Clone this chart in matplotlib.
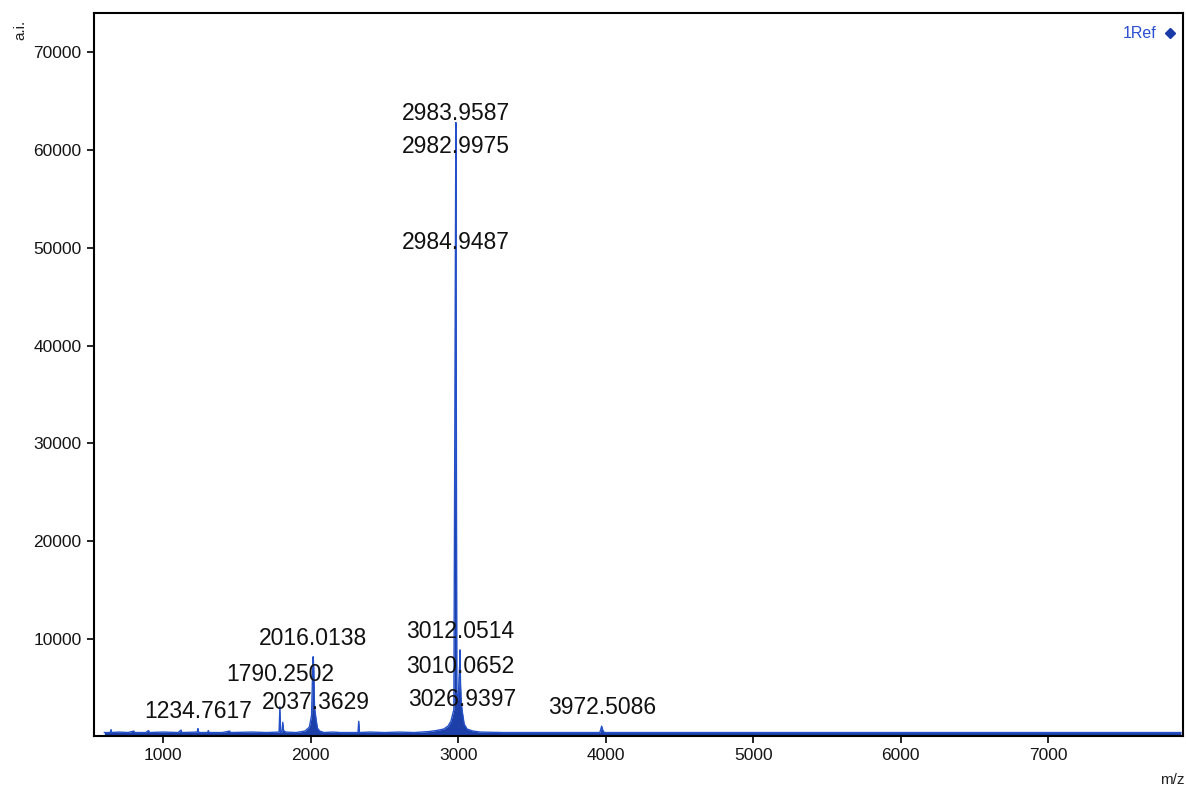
import numpy as np
import matplotlib.pyplot as plt

# spectrum profile (m/z, a.i.)
mz = [600, 640, 645, 650, 700, 760, 800, 805, 880, 900, 905, 1000, 1100, 1120,
      1125, 1230, 1234.8, 1240, 1300, 1305, 1310, 1400, 1450, 1455, 1600, 1700,
      1785, 1790.3, 1795, 1805, 1810, 1815, 1830, 1900, 1960, 1990, 2005, 2012,
      2016.0, 2020, 2025, 2037.4, 2045, 2060, 2090, 2150, 2200, 2320, 2325, 2330,
      2400, 2500, 2600, 2700, 2800, 2850, 2900, 2930, 2950, 2970, 2982.9975,
      2983.9587, 2984.9487, 2990, 3000, 3005, 3010.0652, 3012.0514, 3015, 3020,
      3026.9397, 3040, 3060, 3100, 3150, 3300, 3500, 3700, 3960, 3972.5, 3980,
      3990, 4200, 4600, 5000, 5400, 5800, 6000, 6300, 6600, 6900, 7200, 7500,
      7900]
intensity = [450, 450, 750, 450, 500, 450, 600, 450, 450, 650, 450, 500, 450, 700,
             450, 500, 850, 450, 450, 650, 450, 450, 600, 450, 500, 450,
             500, 3100, 500, 550, 1500, 650, 500, 450, 600, 1000, 2200, 6500,
             8200, 7000, 3000, 1600, 900, 600, 450, 500, 450, 450, 1600, 450,
             500, 450, 500, 450, 550, 650, 800, 1100, 1600, 2800, 60000,
             62800, 49500, 4500, 3800, 6000, 7500, 8900, 5500, 3500,
             2600, 1300, 800, 600, 500, 450, 450, 450, 450, 1100, 700,
             450, 450, 450, 450, 450, 450, 450, 450, 450, 450, 450, 450,
             450]

# peak labels
peak_labels = ['2983.9587', '2982.9975', '2984.9487', '3012.0514', '3010.0652',
               '3026.9397', '2016.0138', '1790.2502', '2037.3629', '1234.7617',
               '3972.5086']
peak_mz = [2983.9587, 2982.9975, 2984.9487, 3012.0514, 3010.0652,
           3026.9397, 2016.0138, 1790.2502, 2037.3629, 1234.7617, 3972.5086]
label_y = [63700, 60400, 50500, 10800, 7250, 3780, 10100, 6430, 3470, 2550, 2960]

xticks = [1000, 2000, 3000, 4000, 5000, 6000, 7000]
yticks = [10000, 20000, 30000, 40000, 50000, 60000, 70000]

blue = '#2350c8'

fig = plt.figure(figsize=(11.86, 7.90), dpi=100)
ax = fig.add_axes([0.0793, 0.0684, 0.9182, 0.9151])

ax.fill_between(mz, 0, intensity, color='#1c3fa8', lw=0)
ax.plot(mz, intensity, color=blue, lw=1.0)

for lab, x, y in zip(peak_labels, peak_mz, label_y):
    ax.text(x, y, lab, ha='center', va='center', fontsize=16.5,
            family='Liberation Sans', color='#111111')

ax.set_xlim(530, 7915)
ax.set_ylim(100, 74000)
ax.set_xticks(xticks)
ax.set_yticks(yticks)
ax.tick_params(direction='out', length=5, width=1.2, labelsize=12.5,
               labelcolor='#151515', pad=4)
for lab in ax.get_xticklabels() + ax.get_yticklabels():
    lab.set_family('Liberation Sans')
for s in ax.spines.values():
    s.set_linewidth(1.5)

fig.text(0.011, 0.962, 'a.i.', rotation=90, fontsize=11, family='Liberation Sans',
         color='#222222', ha='left', va='center')
fig.text(0.999, 0.013, 'm/z', fontsize=11, family='Liberation Sans',
         color='#222222', ha='right', va='center')

ax.text(0.976, 0.972, '1Ref', transform=ax.transAxes, fontsize=11.5,
        family='Liberation Sans', color='#2a4fd0', ha='right', va='center')
ax.plot([0.988], [0.972], transform=ax.transAxes, marker='D', ms=5,
        color='#1a3aa8', clip_on=False)

fig.savefig('out.png', dpi=100)
